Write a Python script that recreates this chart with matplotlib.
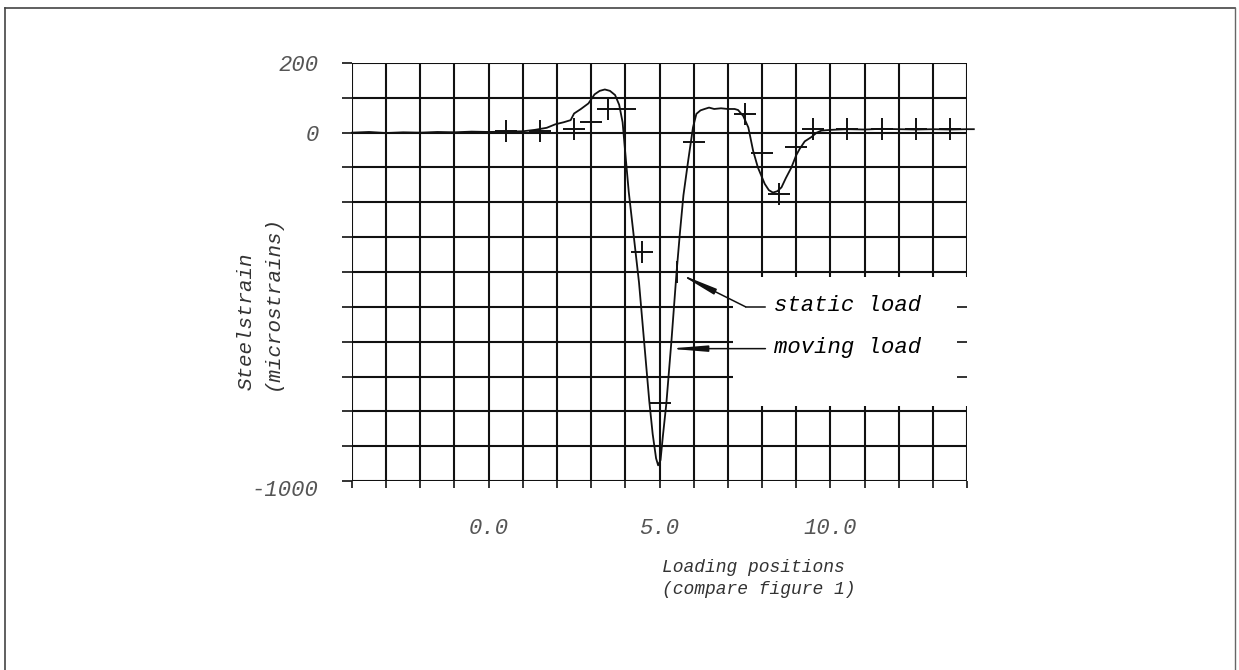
import matplotlib
matplotlib.use("Agg")
import matplotlib.pyplot as plt
import matplotlib.transforms as mtransforms
from matplotlib.lines import Line2D
from matplotlib.patches import Rectangle

# moving load: continuous strain trace
moving_x = [-4.0, -3.5, -3.0, -2.5, -2.0, -1.5, -1.0, -0.5, 0.0, 0.5, 1.0, 1.35,
            1.7, 1.95, 2.2, 2.4, 2.5, 2.7, 2.92, 3.1, 3.25, 3.4, 3.55, 3.7, 3.82,
            3.92, 4.0, 4.1, 4.25, 4.4, 4.55, 4.7, 4.8, 4.9, 4.96, 5.03, 5.1, 5.2,
            5.35, 5.5, 5.6, 5.7, 5.84, 5.98, 6.08, 6.2, 6.32, 6.45, 6.6, 6.8, 7.0,
            7.2, 7.3, 7.45, 7.6, 7.74, 7.88, 8.08, 8.2, 8.32, 8.45, 8.57, 8.7, 8.86,
            9.0, 9.1, 9.25, 9.44, 9.6, 9.74, 10.0, 10.5, 11.0, 11.5, 12.0, 12.5,
            13.0, 13.5, 14.0, 14.2]
moving_y = [0, 2, -1, 1, 0, 2, 1, 3, 2, 3, 4, 8,
            14, 24, 30, 36, 55, 68, 84, 110, 120, 124, 120, 108, 80,
            30, -60, -170, -300, -430, -600, -770, -865, -935, -955, -940, -870, -778,
            -597, -400, -285, -180, -80, 15, 54, 64, 68, 72, 68, 70, 68,
            68, 65, 48, 15, -52, -100, -147, -165, -172, -168, -157, -130, -100,
            -65, -47, -25, -13, 0, 6, 8, 10, 9, 11, 10, 9,
            10, 9, 10, 10]

# static load: discrete measurements
static_x = [0.5, 1.5, 2.5, 3.0, 3.5, 4.0, 4.5, 5.0, 5.5, 6.0, 7.5, 8.0, 8.5,
            9.0, 9.5, 10.5, 11.5, 12.5, 13.5]
static_y = [4, 5, 11, 32, 68, 68, -344, -777, -401, -28, 54, -59, -176,
            -40, 10, 10, 10, 10, 10]

x_grid = list(range(-4, 15))
y_grid = list(range(-1000, 201, 100))
x_ticks = [0, 5, 10]
x_labels = ["0.0", "5.0", "10.0"]
y_ticks = [200, 0, -1000]
y_labels = ["200", "0", "-1000"]

W, H = 1239, 670
fig = plt.figure(figsize=(W / 100, H / 100), dpi=100)
ax = fig.add_axes([352 / W, 1 - 481 / H, 615 / W, 418 / H])
font = "Liberation Mono"
grey = "#555555"

ax.set_xlim(-4, 14)
ax.set_ylim(-1000, 200)
for s in ax.spines.values():
    s.set_visible(False)

# grid (also forms the frame)
ax.vlines(x_grid, -1000, 200, color="#111111", lw=1.5, zorder=1)
ax.hlines(y_grid, -4, 14, color="#111111", lw=1.5, zorder=1)

# white legend area cut out of the grid
ax.add_patch(Rectangle((7.15, -786), 7.0, 372, facecolor="white",
                       edgecolor="none", zorder=1.2, clip_on=False))

ax.set_xticks(x_ticks)
ax.set_xticklabels(x_labels)
ax.set_xticks(x_grid, minor=True)
ax.set_yticks(y_ticks)
ax.set_yticklabels(y_labels)
ax.set_yticks(y_grid, minor=True)
ax.tick_params(axis="x", which="both", direction="out", length=5, width=1.2,
               color="#111111", pad=22, labelsize=16, labelcolor=grey)
ax.tick_params(axis="y", which="both", direction="out", length=7, width=1.2,
               color="#111111", pad=17, labelsize=16, labelcolor=grey)
ax.tick_params(axis="y", which="minor", right=True)
for t in ax.yaxis.get_minor_ticks():
    t.tick2line.set_marker(matplotlib.markers.TICKLEFT)
    t.tick2line.set_markersize(7)
for lab in ax.get_xticklabels() + ax.get_yticklabels():
    lab.set_fontfamily(font)
    lab.set_fontstyle("italic")
# the bottom label sits a little lower in the original
low = ax.get_yticklabels()[2]
low.set_transform(low.get_transform() +
                  mtransforms.ScaledTranslation(0, -7 / 100, fig.dpi_scale_trans))

ax.plot(moving_x, moving_y, color="#111111", lw=1.3, zorder=3, clip_on=False)
ax.plot(static_x, static_y, linestyle="none", marker="+", markersize=16,
        markeredgewidth=1.4, color="#111111", zorder=4)

# legend leaders
ax.text(8.34, -497, "static load", family=font, style="italic", fontsize=16,
        ha="left", va="center", zorder=5)
ax.text(8.34, -617, "moving load", family=font, style="italic", fontsize=16,
        ha="left", va="center", zorder=5)
ax.plot([8.1, 7.52], [-500, -500], color="#111111", lw=1.1, zorder=5)
ax.annotate("", xy=(5.58, -405), xytext=(7.52, -500),
            arrowprops=dict(arrowstyle="-|>,head_length=2.2,head_width=0.18",
                            color="#111111", lw=1.1, shrinkA=0, shrinkB=0),
            zorder=5)
ax.annotate("", xy=(5.27, -620), xytext=(8.1, -620),
            arrowprops=dict(arrowstyle="-|>,head_length=2.2,head_width=0.18",
                            color="#111111", lw=1.1, shrinkA=0, shrinkB=0),
            zorder=5)

fig.text(259 / W, 1 - 390 / H, "Steelstrain\n(microstrains)", rotation=90,
         family=font, style="italic", fontsize=15, color="#333333",
         ha="center", va="bottom", multialignment="left", linespacing=1.45)
fig.text(662 / W, 1 - 559 / H, "Loading positions\n(compare figure 1)",
         family=font, style="italic", fontsize=13, color="#333333",
         ha="left", va="top", linespacing=1.4)

# page frame
fig.add_artist(Line2D([5 / W, 5 / W], [0, 1 - 8 / H], color="#444444", lw=1.2))
fig.add_artist(Line2D([5 / W, 1235 / W], [1 - 8 / H, 1 - 8 / H], color="#444444", lw=1.2))
fig.add_artist(Line2D([1235 / W, 1235 / W], [0, 1 - 8 / H], color="#666666", lw=1.0))

fig.savefig("out.png", dpi=100)
